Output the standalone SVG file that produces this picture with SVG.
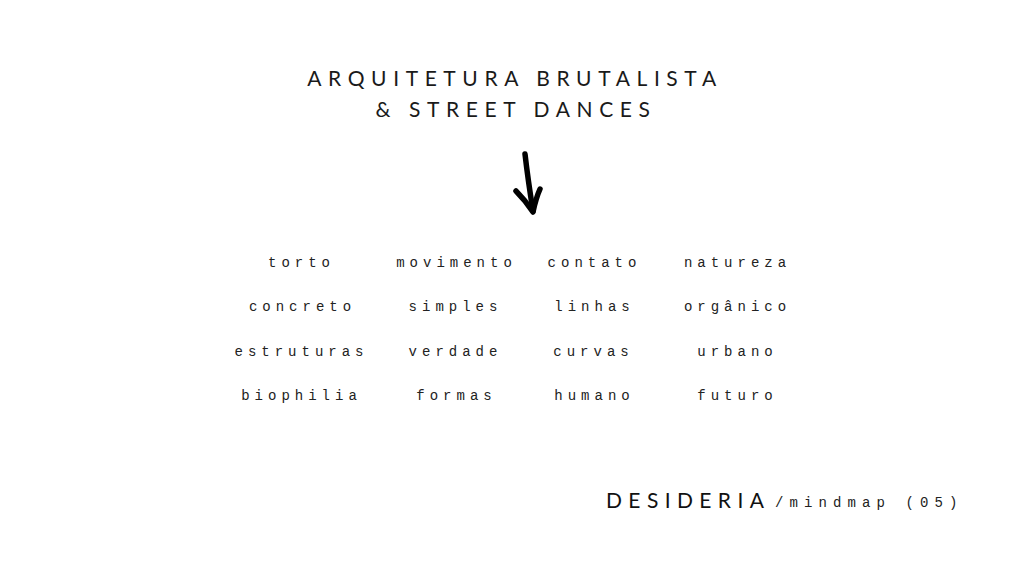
<svg xmlns="http://www.w3.org/2000/svg" width="1024" height="576" viewBox="0 0 1024 576">
<style>
.title{font-family:Lato,"Liberation Sans",sans-serif;font-size:21px;letter-spacing:6.6px;fill:#1a1a1a;text-anchor:middle}
.w{font-family:"Liberation Mono","DejaVu Sans Mono",monospace;font-size:14px;letter-spacing:5px;fill:#222;text-anchor:middle}
.brand{font-family:Lato,"Liberation Sans",sans-serif;font-size:21px;letter-spacing:6.4px;fill:#111}
.sub{font-family:"Liberation Mono","DejaVu Sans Mono",monospace;font-size:14px;letter-spacing:6.1px;fill:#222}
.arrow{fill:none;stroke:#000;stroke-width:5.5;stroke-linecap:round;stroke-linejoin:round}
</style>
<rect width="1024" height="576" fill="#fff"/>
<g id="title">
<text class="title" x="515" y="86">ARQUITETURA BRUTALISTA</text>
<text class="title" x="516" y="117">&amp; STREET DANCES</text>
</g>
<g id="connectors">
<path class="arrow" d="M525 154 Q528 180 533 211"/>
<path class="arrow" d="M516 191 Q525 200 533 212 Q536 198 540 189"/>
</g>
<g id="words">
<text class="w" x="301.5" y="267">torto</text>
<text class="w" x="456.5" y="267">movimento</text>
<text class="w" x="594.5" y="267">contato</text>
<text class="w" x="737.5" y="267">natureza</text>
<text class="w" x="302.5" y="311">concreto</text>
<text class="w" x="455.5" y="311">simples</text>
<text class="w" x="594.5" y="311">linhas</text>
<text class="w" x="737.5" y="311">orgânico</text>
<text class="w" x="301.5" y="356">estruturas</text>
<text class="w" x="455.5" y="356">verdade</text>
<text class="w" x="593.5" y="356">curvas</text>
<text class="w" x="737.5" y="356">urbano</text>
<text class="w" x="301.5" y="400">biophilia</text>
<text class="w" x="456.5" y="400">formas</text>
<text class="w" x="594.5" y="400">humano</text>
<text class="w" x="737.5" y="400">futuro</text>
</g>
<g id="footer">
<text class="brand" x="606" y="508">DESIDERIA</text>
<text class="sub" x="775" y="507">/mindmap (05)</text>
</g>
</svg>
